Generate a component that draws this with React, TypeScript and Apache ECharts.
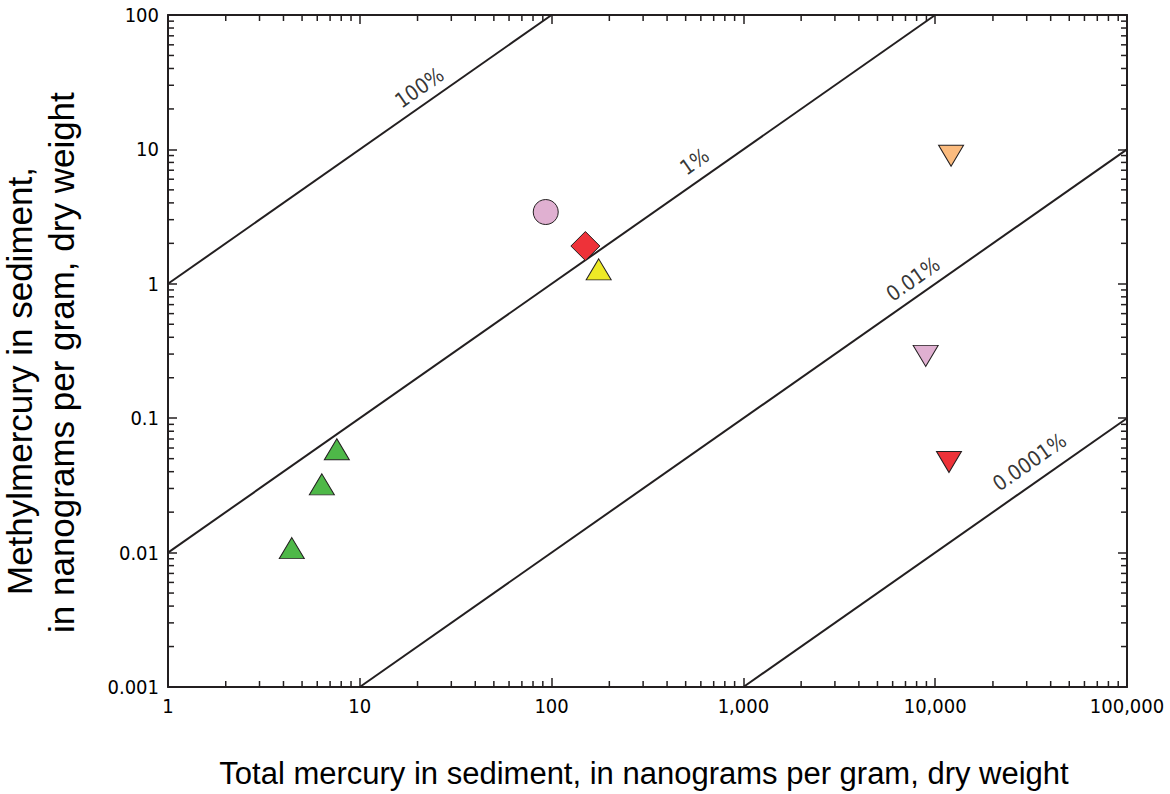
import React, { useEffect, useRef } from "react";
import * as echarts from "echarts";

// ---- Data ----
const greenTriangles: number[][] = [
  [4.42, 0.0108],
  [6.34, 0.0322],
  [7.59, 0.0587],
];
const yellowTriangles: number[][] = [[176, 1.28]];
const redDiamonds: number[][] = [[150, 1.91]];
const pinkCircles: number[][] = [[93.2, 3.42]];
const orangeDownTriangles: number[][] = [[12100, 8.96]];
const pinkDownTriangles: number[][] = [[8920, 0.291]];
const redDownTriangles: number[][] = [[11800, 0.0472]];

// Reference ratio lines (methylmercury / total mercury)
const line100: number[][] = [[1, 1], [100, 100]];
const line1: number[][] = [[1, 0.01], [10000, 100]];
const line001: number[][] = [[10, 0.001], [100000, 10]];
const line00001: number[][] = [[1000, 0.001], [100000, 0.1]];

const lineLabels: { value: number[]; text: string }[] = [
  { value: [20.5, 28.7], text: "100%" },
  { value: [557, 8.09], text: "1%" },
  { value: [7680, 1.08], text: "0.01%" },
  { value: [31100, 0.047], text: "0.0001%" },
];

const X_MIN = 1;
const X_MAX = 100000;
const Y_MIN = 0.001;
const Y_MAX = 100;

const xMinorTicks: number[] = [];
for (let k = 0; k < 5; k++) for (let m = 2; m <= 9; m++) xMinorTicks.push(m * Math.pow(10, k));
const yMinorTicks: number[] = [];
for (let k = -3; k < 2; k++) for (let m = 2; m <= 9; m++) yMinorTicks.push(Number((m * Math.pow(10, k)).toPrecision(6)));

const INK = "#231f20";
const TICK_FONT = "'Liberation Sans Narrow', 'DejaVu Sans Condensed', 'Roboto', sans-serif";
const TITLE_FONT = "'Liberation Sans', Arial, sans-serif";
const MINOR_LEN = 6;

function fmt(v: number): string {
  const r = Number(v.toPrecision(6));
  return r >= 1 ? r.toLocaleString("en-US") : String(r);
}

export default function App() {
  const ref = useRef<HTMLDivElement>(null);
  useEffect(() => {
    document.body.style.margin = "0";
    if (!ref.current) return;
    const chart = echarts.init(ref.current, undefined, { renderer: "svg" });

    const axisCommon = {
      type: "log" as const,
      logBase: 10,
      axisLine: { show: true, lineStyle: { color: INK, width: 2 } },
      axisTick: { show: true, inside: true, length: 9, lineStyle: { color: INK, width: 1.5 } },
      minorTick: { show: false },
      splitLine: { show: false },
    };

    const tickLabel = {
      show: true,
      margin: 9,
      color: "#000",
      fontFamily: TICK_FONT,
      fontSize: 20,
      formatter: (v: number) => fmt(v),
    };

    const tri = (data: number[][], color: string, rotate = 0) => ({
      type: "scatter",
      data,
      symbol: "triangle",
      symbolSize: [25, 21],
      symbolRotate: rotate,
      itemStyle: { color, borderColor: INK, borderWidth: 1, opacity: 1 },
      z: 5,
    });

    const refLine = (data: number[][]) => ({
      type: "line",
      data,
      symbol: "none",
      lineStyle: { color: INK, width: 2 },
      z: 3,
      silent: true,
    });

    chart.setOption({
      animation: false,
      grid: { left: 168, top: 15, width: 959, height: 672, containLabel: false },
      xAxis: [
        { ...axisCommon, position: "bottom", min: X_MIN, max: X_MAX, axisLabel: tickLabel },
        { ...axisCommon, position: "top", min: X_MIN, max: X_MAX, axisLabel: { show: false } },
      ],
      yAxis: [
        { ...axisCommon, position: "left", min: Y_MIN, max: Y_MAX, axisLabel: tickLabel },
        { ...axisCommon, position: "right", min: Y_MIN, max: Y_MAX, axisLabel: { show: false } },
      ],
      graphic: [
        {
          type: "text",
          x: 19,
          y: 595,
          rotation: Math.PI / 2,
          style: {
            text: "Methylmercury in sediment,",
            font: `35px ${TITLE_FONT}`,
            fill: "#000",
            textAlign: "left",
            textVerticalAlign: "middle",
          },
        },
        {
          type: "text",
          x: 61,
          y: 633,
          rotation: Math.PI / 2,
          style: {
            text: "in nanograms per gram, dry weight",
            font: `35px ${TITLE_FONT}`,
            fill: "#000",
            textAlign: "left",
            textVerticalAlign: "middle",
          },
        },
        {
          type: "text",
          x: 644,
          y: 773,
          style: {
            text: "Total mercury in sediment, in nanograms per gram, dry weight",
            font: `31px ${TITLE_FONT}`,
            fill: "#000",
            textAlign: "center",
            textVerticalAlign: "middle",
          },
        },
      ],
      series: [
        refLine(line100),
        refLine(line1),
        refLine(line001),
        refLine(line00001),
        {
          type: "custom",
          data: xMinorTicks.map((v) => [v, 1]),
          encode: { x: 0, y: 1 },
          silent: true,
          z: 2,
          renderItem: (_p: any, api: any) => {
            const x = api.value(0);
            const b = api.coord([x, Y_MIN]);
            const t = api.coord([x, Y_MAX]);
            const st = { stroke: INK, lineWidth: 1.5 };
            return {
              type: "group",
              children: [
                { type: "line", shape: { x1: b[0], y1: b[1], x2: b[0], y2: b[1] - MINOR_LEN }, style: st },
                { type: "line", shape: { x1: t[0], y1: t[1], x2: t[0], y2: t[1] + MINOR_LEN }, style: st },
              ],
            };
          },
        },
        {
          type: "custom",
          data: yMinorTicks.map((v) => [1, v]),
          encode: { x: 0, y: 1 },
          silent: true,
          z: 2,
          renderItem: (_p: any, api: any) => {
            const y = api.value(1);
            const l = api.coord([X_MIN, y]);
            const r = api.coord([X_MAX, y]);
            const st = { stroke: INK, lineWidth: 1.5 };
            return {
              type: "group",
              children: [
                { type: "line", shape: { x1: l[0], y1: l[1], x2: l[0] + MINOR_LEN, y2: l[1] }, style: st },
                { type: "line", shape: { x1: r[0], y1: r[1], x2: r[0] - MINOR_LEN, y2: r[1] }, style: st },
              ],
            };
          },
        },
        {
          type: "scatter",
          data: lineLabels.map((d) => ({ value: d.value, name: d.text })),
          symbolSize: 0.1,
          itemStyle: { color: "transparent" },
          silent: true,
          z: 4,
          label: {
            show: true,
            position: "inside",
            rotate: 35,
            formatter: (p: any) => p.name,
            color: "#000",
            fontFamily: TICK_FONT,
            fontSize: 21,
            align: "center",
            verticalAlign: "middle",
          },
        },
        tri(greenTriangles, "#4eb848"),
        tri(yellowTriangles, "#eeea26"),
        {
          type: "scatter",
          data: redDiamonds,
          symbol: "diamond",
          symbolSize: [29, 29],
          itemStyle: { color: "#ee3239", borderColor: INK, borderWidth: 1, opacity: 1 },
          z: 5,
        },
        {
          type: "scatter",
          data: pinkCircles,
          symbol: "circle",
          symbolSize: 25,
          itemStyle: { color: "#e0b0d1", borderColor: INK, borderWidth: 1, opacity: 1 },
          z: 5,
        },
        tri(orangeDownTriangles, "#fbbb7e", 180),
        tri(pinkDownTriangles, "#e0b0d1", 180),
        tri(redDownTriangles, "#ee3239", 180),
      ],
    });
    return () => chart.dispose();
  }, []);
  return <div ref={ref} style={{ width: 1170, height: 794 }} />;
}
